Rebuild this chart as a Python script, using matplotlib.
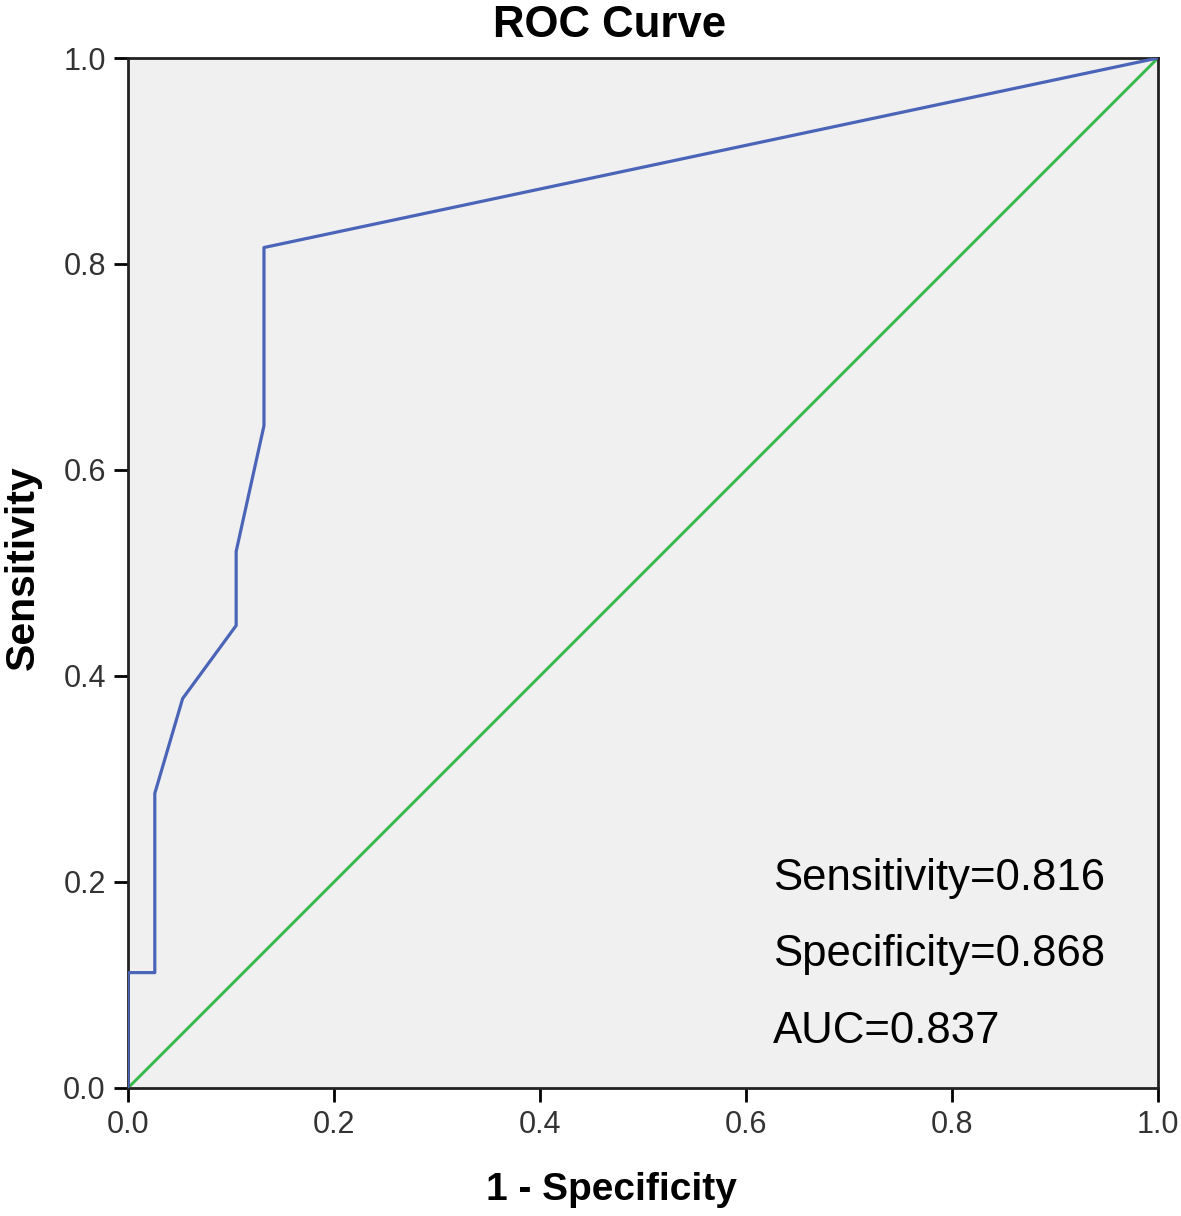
import matplotlib
matplotlib.use("Agg")
import matplotlib.pyplot as plt

# roc points
fpr = [0.0, 0.0, 0.026, 0.026, 0.053, 0.105, 0.105, 0.132, 0.132, 1.0]
tpr = [0.0, 0.112, 0.112, 0.286, 0.378, 0.449, 0.521, 0.643, 0.816, 1.0]
ref_line = [0.0, 1.0]
ticks = [0.0, 0.2, 0.4, 0.6, 0.8, 1.0]
stats = ["Sensitivity=0.816", "Specificity=0.868", "AUC=0.837"]
stats_y = [0.203, 0.130, 0.055]

plt.rcParams['font.family'] = ['Liberation Sans', 'DejaVu Sans']

fig = plt.figure(figsize=(11.81, 12.16), dpi=100)
ax = fig.add_axes([0.1084, 0.1053, 0.8721, 0.8470])
ax.set_facecolor('#f0f0f0')

ax.plot(ref_line, ref_line, color='#35b94a', lw=2.1, zorder=2)
ax.plot(fpr, tpr, color='#4a64b8', lw=2.3, zorder=3)

ax.set_xlim(0, 1)
ax.set_ylim(0, 1)
ax.set_xticks(ticks)
ax.set_yticks(ticks)
ax.set_xticklabels([f"{t:.1f}" for t in ticks])
ax.set_yticklabels([f"{t:.1f}" for t in ticks])
ax.tick_params(direction='out', length=10, width=2, labelsize=22,
               labelcolor='#333333', pad=6)
for s in ax.spines.values():
    s.set_linewidth(2)
    s.set_color('#222222')

for txt, y in zip(stats, stats_y):
    ax.text(0.626, y, txt, fontsize=31.5, va='center', ha='left', color='black')

fig.text(0.5165, 0.979, "ROC Curve", fontsize=31.5, fontweight='bold',
         ha='center', va='center')
fig.text(0.518, 0.021, "1 - Specificity", fontsize=28, fontweight='bold',
         ha='center', va='center')
fig.text(0.019, 0.533, "Sensitivity", fontsize=29.5, fontweight='bold',
         ha='center', va='center', rotation=90)

fig.savefig("out.png", dpi=100)
